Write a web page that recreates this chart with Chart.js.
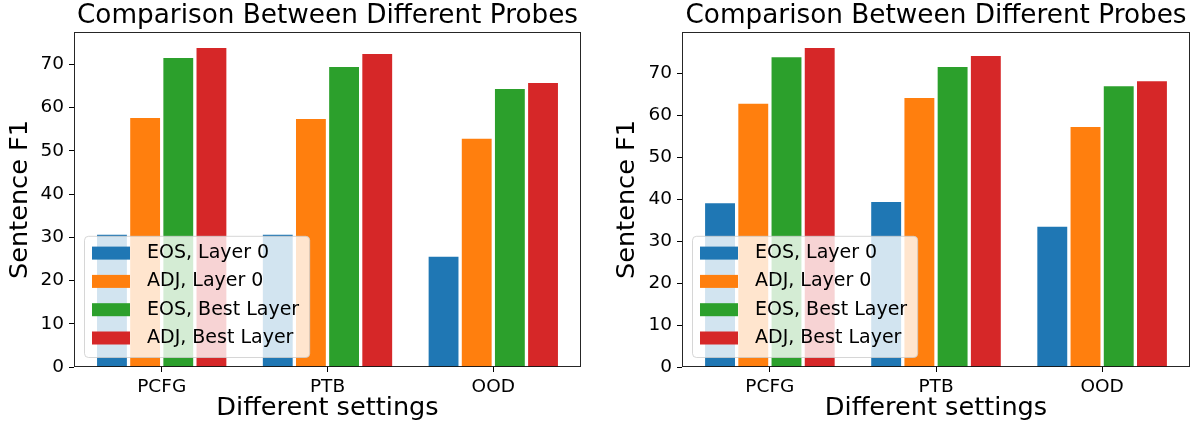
<!DOCTYPE html>
<html>
<head>
<meta charset="utf-8">
<script src="https://cdn.jsdelivr.net/npm/chart.js@4/dist/chart.umd.min.js"></script>
<style>
  html, body { margin: 0; padding: 0; background: #fff; }
  .box { position: absolute; top: 0; height: 425px; }
  #left { left: 0; width: 595px; }
  #right { left: 595px; width: 596px; }
</style>
</head>
<body>
<div class="box" id="left"><canvas id="chartLeft"></canvas></div>
<div class="box" id="right"><canvas id="chartRight"></canvas></div>
<script>
// categories and series
var categories = ['PCFG', 'PTB', 'OOD'];
var seriesNames = ['EOS, Layer 0', 'ADJ, Layer 0', 'EOS, Best Layer', 'ADJ, Best Layer'];
var seriesColors = ['#1f77b4', '#ff7f0e', '#2ca02c', '#d62728'];

// left panel
var leftEosLayer0 = [30.6, 30.6, 25.5];
var leftAdjLayer0 = [57.6, 57.4, 52.8];
var leftEosBest = [71.5, 69.4, 64.3];
var leftAdjBest = [73.8, 72.4, 65.7];

// right panel
var rightEosLayer0 = [39.0, 39.3, 33.4];
var rightAdjLayer0 = [62.7, 64.1, 57.2];
var rightEosBest = [73.8, 71.5, 66.9];
var rightAdjBest = [76.0, 74.1, 68.1];

var yTicks = [0, 10, 20, 30, 40, 50, 60, 70];

Chart.defaults.font.family = '"DejaVu Sans", sans-serif';
Chart.defaults.color = '#000';

// matplotlib style frame + legend box drawn inside the plot
var framePlugin = {
  id: 'frame',
  afterDatasetsDraw: function(chart) {
    var ctx = chart.ctx;
    var a = chart.chartArea;
    ctx.save();
    ctx.strokeStyle = 'rgba(0,0,0,0.85)';
    ctx.lineWidth = 1;
    ctx.strokeRect(Math.round(a.left) + 0.5, Math.round(a.top) + 0.5,
      Math.round(a.right - a.left) - 1, Math.round(a.bottom - a.top) - 1);

    // legend
    var fontSize = 19;
    ctx.font = fontSize + 'px "DejaVu Sans"';
    var maxW = 0;
    chart.data.datasets.forEach(function(ds) {
      maxW = Math.max(maxW, ctx.measureText(ds.label).width);
    });
    var rowH = 28.3;
    var n = chart.data.datasets.length;
    var boxH = rowH * n + 8;
    var boxW = 63 + maxW + 10;
    var bx = a.left + 10;
    var by = a.bottom - 10 - boxH;
    ctx.beginPath();
    ctx.roundRect(bx + 0.5, by + 0.5, boxW, boxH, 4);
    ctx.fillStyle = 'rgba(255,255,255,0.8)';
    ctx.fill();
    ctx.strokeStyle = 'rgba(204,204,204,0.8)';
    ctx.stroke();
    chart.data.datasets.forEach(function(ds, i) {
      var cy = by + 17.3 + i * rowH;
      ctx.fillStyle = ds.backgroundColor;
      ctx.fillRect(bx + 8, cy - 6.5, 38, 13);
      ctx.fillStyle = '#000';
      ctx.textBaseline = 'middle';
      ctx.textAlign = 'left';
      ctx.fillText(ds.label, bx + 63, cy);
    });
    ctx.restore();
  }
};

function makeChart(canvasId, values, yMax, yAxisWidth, yTitlePad, rightPad) {
  var datasets = seriesNames.map(function(name, s) {
    return {
      label: name,
      backgroundColor: seriesColors[s],
      borderWidth: 0,
      data: categories.map(function(c, i) { return { x: i, y: values[s][i] }; })
    };
  });

  return new Chart(document.getElementById(canvasId), {
    type: 'bar',
    data: { datasets: datasets },
    plugins: [framePlugin],
    options: {
      animation: false,
      events: [],
      responsive: true,
      maintainAspectRatio: false,
      layout: { padding: { left: 0, right: rightPad, top: 0, bottom: 0 } },
      datasets: { bar: { categoryPercentage: 0.8, barPercentage: 0.9 } },
      plugins: {
        legend: { display: false },
        tooltip: { enabled: false },
        title: {
          display: true,
          fullSize: false,
          text: 'Comparison Between Different Probes',
          color: '#000',
          font: { size: 26.3, weight: 'normal' },
          padding: { top: 0, bottom: 0.5 }
        }
      },
      scales: {
        x: {
          type: 'linear',
          offset: false,
          min: -0.529,
          max: categories.length - 1 + 0.529,
          afterBuildTicks: function(scale) {
            scale.ticks = categories.map(function(c, i) { return { value: i }; });
          },
          afterFit: function(scale) { scale.height = 58; },
          border: { display: false },
          grid: { offset: false, drawOnChartArea: false, drawTicks: true, tickLength: 5, color: '#000', lineWidth: 1 },
          ticks: {
            padding: 4,
            font: { size: 18.5 },
            color: '#000',
            maxRotation: 0,
            autoSkip: false,
            callback: function(value) { return categories[value]; }
          },
          title: {
            display: true,
            text: 'Different settings',
            color: '#000',
            font: { size: 25.6 },
            padding: { top: 0, bottom: 1 }
          }
        },
        y: {
          type: 'linear',
          min: 0,
          max: yMax,
          afterBuildTicks: function(scale) {
            scale.ticks = yTicks.map(function(v) { return { value: v }; });
          },
          afterFit: function(scale) { scale.width = yAxisWidth; },
          border: { display: false },
          grid: { drawOnChartArea: false, drawTicks: true, tickLength: 5, color: '#000', lineWidth: 1 },
          ticks: { padding: 5, font: { size: 18.5 }, color: '#000' },
          title: {
            display: true,
            text: 'Sentence F1',
            color: '#000',
            font: { size: 25.6 },
            padding: { top: yTitlePad, bottom: 0 }
          }
        }
      }
    }
  });
}

makeChart('chartLeft', [leftEosLayer0, leftAdjLayer0, leftEosBest, leftAdjBest], 77.49, 74, 5, 14);
makeChart('chartRight', [rightEosLayer0, rightAdjLayer0, rightEosBest, rightAdjBest], 79.8, 87, 17, 1);
</script>
</body>
</html>
